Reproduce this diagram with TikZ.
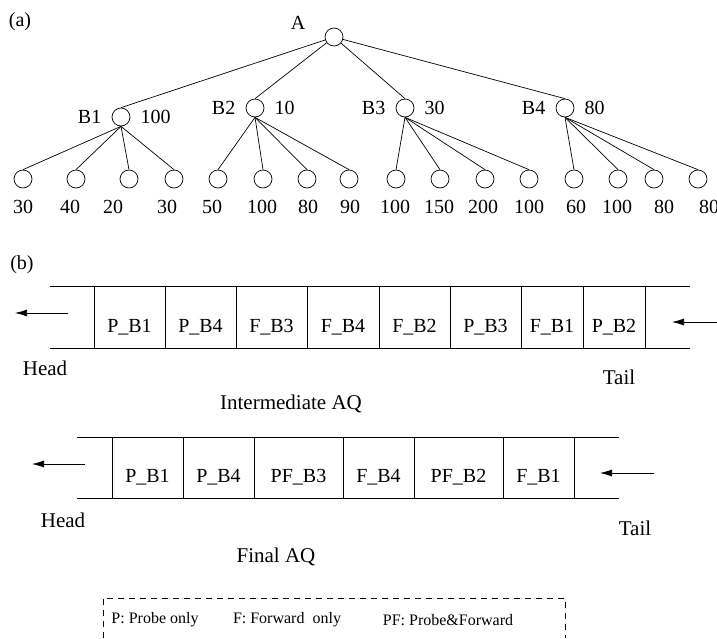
\documentclass[tikz,border=0pt]{standalone}
\usepackage{fontspec}
\setmainfont{Liberation Serif}
\usetikzlibrary{positioning, arrows.meta}

\begin{document}
\begin{tikzpicture}[
    x=1pt, y=-1pt,
    line width=0.7pt,
    font=\fontsize{20}{24}\selectfont,
    vertex/.style={draw, circle, minimum size=18pt, inner sep=0pt},
    tag/.style={inner sep=1pt},
    big/.style={inner sep=1pt, font=\fontsize{21}{25}\selectfont},
    every label/.style={inner sep=1pt},
    label distance=9pt,
    cell/.style={
        draw, outer sep=0pt,
        minimum height=61.5pt,
        text height=29pt, text depth=0pt
    },
    push/.style={-{Latex[length=12pt,width=7pt]}},
    note/.style={font=\fontsize{16}{19}\selectfont, inner sep=1pt},
    keybox/.style={dash pattern=on 6pt off 5pt}
]
\useasboundingbox (0,0) rectangle (717,638);

% ===== PART (a): AGGREGATION TREE =====
\node[tag] (parta) at (20,22) {(a)};

\node[vertex] (a) at (334,37) {};
\node[tag] (alabel) at (298,23) {A};

\node[vertex, label=left:B1, label=right:100] (b1) at (121,117) {};
\node[vertex, label=left:B2, label=right:10] (b2) at (255,108) {};
\node[vertex, label=left:B3, label=right:30] (b3) at (405,108) {};
\node[vertex, label=left:B4, label=right:80] (b4) at (565,108) {};

\foreach \x/\lx/\v [count=\i] in {
    23/23/30, 76/70/40, 129/113/20, 174/167/30,
    218/212/50, 263/262/100, 307/308/80, 349/350/90,
    396/395/100, 440/439/150, 485/483/200, 529/529/100,
    574/576/60, 618/617/100, 654/664/80, 698/709/80}{
    \node[vertex] (l\i) at (\x,179) {};
    \node[tag] (v\i) at (\lx,207) {\v};
}

% ===== TREE EDGES =====
\foreach \b in {1,...,4}
    \draw (a) -- (b\b.north);

\foreach \i in {1,...,4}
    \draw (b1.south) -- (l\i.north);
\foreach \i in {5,...,8}
    \draw (b2.south) -- (l\i.north);
\foreach \i in {9,...,12}
    \draw (b3.south) -- (l\i.north);
\foreach \i in {13,...,16}
    \draw (b4.south) -- (l\i.north);

% ===== PART (b): INTERMEDIATE AQ =====
\node[tag] (partb) at (22,265) {(b)};

\node[cell, minimum width=71pt, anchor=west] (i1) at (94,317.5) {P\_B1};
\node[cell, minimum width=71pt, right=0pt of i1] (i2) {P\_B4};
\node[cell, minimum width=71pt, right=0pt of i2] (i3) {F\_B3};
\node[cell, minimum width=72pt, right=0pt of i3] (i4) {F\_B4};
\node[cell, minimum width=71pt, right=0pt of i4] (i5) {F\_B2};
\node[cell, minimum width=71pt, right=0pt of i5] (i6) {P\_B3};
\node[cell, minimum width=62pt, right=0pt of i6] (i7) {F\_B1};
\node[cell, minimum width=62pt, right=0pt of i7] (i8) {P\_B2};

\draw ([xshift=-44pt]i1.north west) -- ([xshift=45pt]i8.north east);
\draw ([xshift=-44pt]i1.south west) -- ([xshift=45pt]i8.south east);

\coordinate (ihs) at (68,313);
\coordinate (ihe) at (15,313);
\coordinate (its) at (717,322);
\coordinate (ite) at (672,322);
\draw[push] (ihs) -- (ihe);
\draw[push] (its) -- (ite);

\node[big] (ihead) at (45,368) {Head};
\node[big] (itail) at (619,377) {Tail};
\node[big] (icap) at (291,404) {Intermediate AQ};

% ===== FINAL AQ =====
\node[cell, minimum width=71pt, anchor=west] (f1) at (112,468) {P\_B1};
\node[cell, minimum width=71pt, right=0pt of f1] (f2) {P\_B4};
\node[cell, minimum width=89pt, right=0pt of f2] (f3) {PF\_B3};
\node[cell, minimum width=71pt, right=0pt of f3] (f4) {F\_B4};
\node[cell, minimum width=89pt, right=0pt of f4] (f5) {PF\_B2};
\node[cell, minimum width=71pt, right=0pt of f5] (f6) {F\_B1};

\draw ([xshift=-35pt]f1.north west) -- ([xshift=45pt]f6.north east);
\draw ([xshift=-35pt]f1.south west) -- ([xshift=45pt]f6.south east);

\coordinate (fhs) at (85,464);
\coordinate (fhe) at (32,464);
\coordinate (fts) at (654,473);
\coordinate (fte) at (600,473);
\draw[push] (fhs) -- (fhe);
\draw[push] (fts) -- (fte);

\node[big] (fhead) at (63,520) {Head};
\node[big] (ftail) at (635,528) {Tail};
\node[big] (fcap) at (276,557) {Final AQ};

% ===== LEGEND =====
\draw[keybox] (103,638) -- (103,598) -- (565,598) -- (565,638);
\node[note] (kp) at (155,620) {P: Probe only};
\node[note] (kf) at (287,620) {F: Forward\ \ only};
\node[note] (kpf) at (448,620) {PF: Probe\&Forward};

\end{tikzpicture}
\end{document}
